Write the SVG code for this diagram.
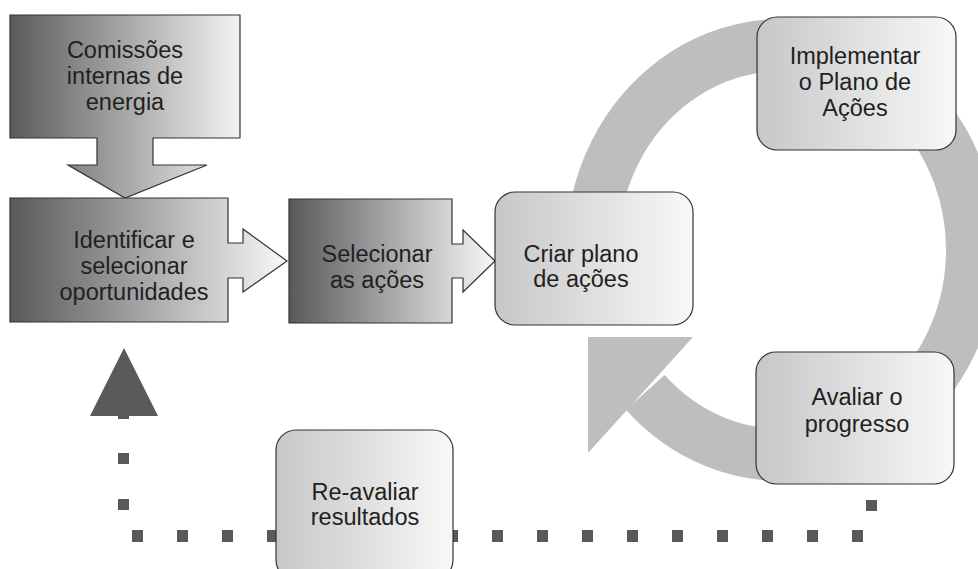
<svg xmlns="http://www.w3.org/2000/svg" width="978" height="569" viewBox="0 0 978 569">
<defs>
<linearGradient id="gDark1" gradientUnits="userSpaceOnUse" x1="10" y1="0" x2="240" y2="0"><stop offset="0" stop-color="#5a5b5d"/><stop offset="1" stop-color="#f3f3f3"/></linearGradient>
<linearGradient id="gDark2" gradientUnits="userSpaceOnUse" x1="10" y1="0" x2="287" y2="0"><stop offset="0" stop-color="#58595b"/><stop offset="1" stop-color="#f8f8f8"/></linearGradient>
<linearGradient id="gDark3" gradientUnits="userSpaceOnUse" x1="289" y1="0" x2="495" y2="0"><stop offset="0" stop-color="#58595b"/><stop offset="1" stop-color="#f8f8f8"/></linearGradient>
<linearGradient id="gLight" x1="0" y1="0" x2="1" y2="0"><stop offset="0" stop-color="#c6c7c9"/><stop offset="1" stop-color="#f8f8f8"/></linearGradient>
</defs>
<style>
.dark{stroke:#333;stroke-width:1.2}
.rbox{fill:url(#gLight);stroke:#333;stroke-width:1.2}
.t{font-family:"Liberation Sans",Arial,sans-serif;font-size:23.5px;fill:#231f20;text-anchor:middle}
.dot{fill:#58595b}
.ring{fill:none;stroke:#bcbec0;stroke-width:52}
</style>
<g id="cycle">
<path class="ring" d="M592,250 A190,205 0 1 1 645.3,392.4"/>
<polygon points="588,337 693,337 588,453" fill="#bcbec0"/>
</g>
<g id="connectors">
<rect class="dot" x="132" y="530" width="11" height="12"/>
<rect class="dot" x="177" y="530" width="11" height="12"/>
<rect class="dot" x="222" y="530" width="11" height="12"/>
<rect class="dot" x="267" y="530" width="11" height="12"/>
<rect class="dot" x="312" y="530" width="11" height="12"/>
<rect class="dot" x="357" y="530" width="11" height="12"/>
<rect class="dot" x="402" y="530" width="11" height="12"/>
<rect class="dot" x="447" y="530" width="11" height="12"/>
<rect class="dot" x="492" y="530" width="11" height="12"/>
<rect class="dot" x="537" y="530" width="11" height="12"/>
<rect class="dot" x="582" y="530" width="11" height="12"/>
<rect class="dot" x="627" y="530" width="11" height="12"/>
<rect class="dot" x="672" y="530" width="11" height="12"/>
<rect class="dot" x="717" y="530" width="11" height="12"/>
<rect class="dot" x="762" y="530" width="11" height="12"/>
<rect class="dot" x="807" y="530" width="11" height="12"/>
<rect class="dot" x="852" y="530" width="11" height="12"/>
<rect class="dot" x="866" y="500" width="11" height="11"/>
<rect class="dot" x="118" y="499" width="11" height="11"/>
<rect class="dot" x="118" y="453" width="11" height="11"/>
<rect class="dot" x="118" y="408" width="11" height="11"/>
<polygon class="dot" points="124,348 158,416 90,416"/>
</g>
<g id="comissoes">
<path class="dark" fill="url(#gDark1)" d="M10,15 H240 V138 H153 V165 H207 L125,198 L68,165 H97 V138 H10 Z"/>
<text class="t" x="125" y="58">Comissões</text>
<text class="t" x="125" y="84">internas de</text>
<text class="t" x="125" y="110">energia</text>
</g>
<g id="identificar">
<path class="dark" fill="url(#gDark2)" d="M10,198 H228 V243 H243 V229 L287,261 L243,292 V278 H228 V322 H10 Z"/>
<text class="t" x="134" y="248">Identificar e</text>
<text class="t" x="134" y="274">selecionar</text>
<text class="t" x="134" y="300">oportunidades</text>
</g>
<g id="selecionar">
<path class="dark" fill="url(#gDark3)" d="M289,199 H452 V244 H463 V230 L495,261 L463,292 V278 H452 V323 H289 Z"/>
<text class="t" x="377" y="262">Selecionar</text>
<text class="t" x="377" y="288">as ações</text>
</g>
<g id="criar">
<rect class="rbox" x="495" y="192" width="198" height="133" rx="20"/>
<text class="t" x="581" y="262">Criar plano</text>
<text class="t" x="581" y="287">de ações</text>
</g>
<g id="implementar">
<rect class="rbox" x="757" y="17" width="199" height="133" rx="20"/>
<text class="t" x="855" y="64">Implementar</text>
<text class="t" x="855" y="90">o Plano de</text>
<text class="t" x="855" y="116">Ações</text>
</g>
<g id="avaliar">
<rect class="rbox" x="756" y="352" width="198" height="132" rx="20"/>
<text class="t" x="857" y="405">Avaliar o</text>
<text class="t" x="857" y="432">progresso</text>
</g>
<g id="reavaliar">
<rect class="rbox" x="276" y="430" width="177" height="150" rx="20"/>
<text class="t" x="365" y="500">Re-avaliar</text>
<text class="t" x="365" y="525">resultados</text>
</g>
</svg>
